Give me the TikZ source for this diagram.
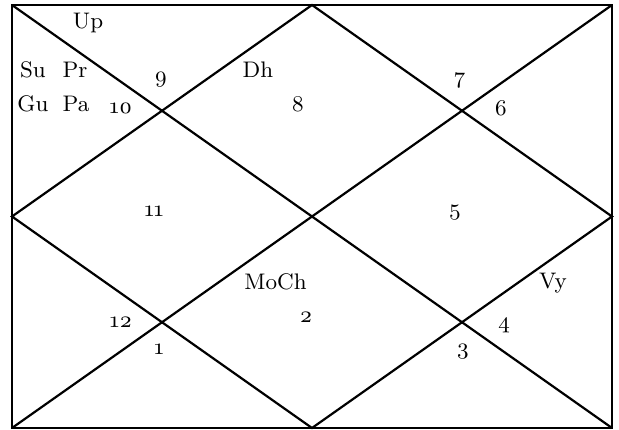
\documentclass[tikz,border=0pt]{standalone}
\usepackage{fontspec}
\setmainfont{lmroman9-regular.otf}[Numbers=OldStyle]
\begin{document}
\begin{tikzpicture}[x=1pt,y=-1pt,
  chartline/.style={line width=2.2pt},
  lbl/.style={font=\fontsize{22.5}{26}\selectfont, inner sep=0pt, anchor=center}]
\useasboundingbox (0,0) rectangle (619,430);
\coordinate (tl) at (12,5);
\coordinate (tr) at (612,5);
\coordinate (br) at (612,428);
\coordinate (bl) at (12,428);
\coordinate (tm) at (312,5);
\coordinate (rm) at (612,216.5);
\coordinate (bm) at (312,428);
\coordinate (lm) at (12,216.5);
\draw[chartline] (tl) -- (tr) -- (br) -- (bl) -- cycle;
\draw[chartline] (tl) -- (br);
\draw[chartline] (tr) -- (bl);
\draw[chartline] (tm) -- (rm) -- (bm) -- (lm) -- cycle;
% planets
\node[lbl] (up) at (88,23) {Up};
\node[lbl] (su) at (33,70) {Su};
\node[lbl] (pr) at (75,70) {Pr};
\node[lbl] (gu) at (33,104) {Gu};
\node[lbl] (pa) at (76,104) {Pa};
\node[lbl] (dh) at (258,70) {Dh};
\node[lbl] (moch) at (275.5,282) {MoCh};
\node[lbl] (vy) at (553,283) {Vy};
% house numbers
\node[lbl] (h9) at (161,80) {9};
\node[lbl] (h10) at (121,108) {10};
\node[lbl] (h8) at (298,104) {8};
\node[lbl] (h7) at (460,80) {7};
\node[lbl] (h6) at (501,108) {6};
\node[lbl] (h11) at (154,211) {11};
\node[lbl] (h5) at (455,213) {5};
\node[lbl] (h2) at (306,317) {2};
\node[lbl] (h12) at (121,322) {12};
\node[lbl] (h1) at (159,349) {1};
\node[lbl] (h3) at (463,352) {3};
\node[lbl] (h4) at (504,325) {4};
\end{tikzpicture}
\end{document}
